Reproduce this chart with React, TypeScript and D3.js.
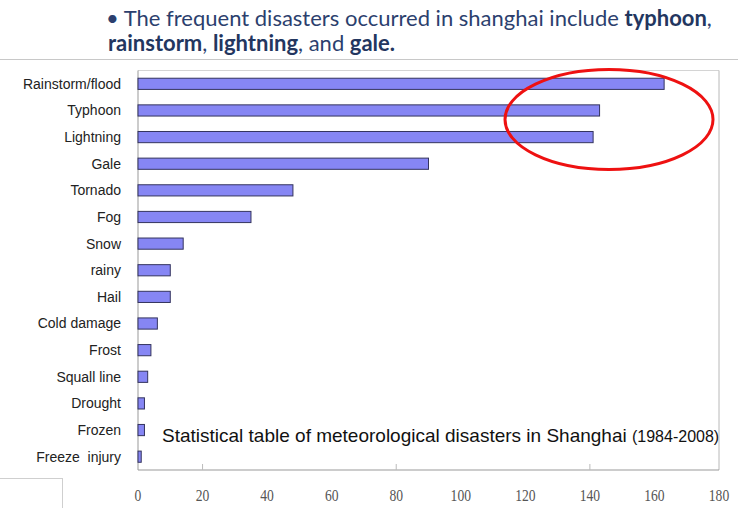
import React from "react";
import * as d3 from "d3";

// Meteorological disaster counts in Shanghai, 1984-2008
const categories = [
  "Rainstorm/flood",
  "Typhoon",
  "Lightning",
  "Gale",
  "Tornado",
  "Fog",
  "Snow",
  "rainy",
  "Hail",
  "Cold damage",
  "Frost",
  "Squall line",
  "Drought",
  "Frozen",
  "Freeze  injury",
];
const counts = [163, 143, 141, 90, 48, 35, 14, 10, 10, 6, 4, 3, 2, 2, 1];
const xTicks = [0, 20, 40, 60, 80, 100, 120, 140, 160, 180];
const markedTicks = [20, 80, 140];

const W = 738;
const H = 508;
const plot = { left: 138, right: 719, top: 70.5, bottom: 470 };

export default function App() {
  const x = d3.scaleLinear().domain([0, 180]).range([plot.left, plot.right]);
  const y = d3
    .scaleBand<string>()
    .domain(categories)
    .range([plot.top, plot.bottom])
    .paddingInner(0.58)
    .paddingOuter(0.29);

  const titleColor = "#2c3f6e";
  const labelFont = "'Liberation Sans', Arial, sans-serif";

  return (
    <svg
      width={W}
      height={H}
      viewBox={`0 0 ${W} ${H}`}
      style={{ position: "absolute", left: 0, top: 0, background: "#fff" }}
    >
      <rect x={0} y={0} width={W} height={H} fill="#fff" />

      {/* heading */}
      <text
        x={106}
        y={26}
        fill={titleColor}
        fontFamily="Lato, 'Open Sans', sans-serif"
        fontSize={22}
      >
        <tspan>• The frequent disasters occurred in shanghai include </tspan>
        <tspan fontWeight="bold" fill="#23365f">typhoon</tspan>
        <tspan>,</tspan>
      </text>
      <text
        x={108}
        y={51}
        fill={titleColor}
        fontFamily="Lato, 'Open Sans', sans-serif"
        fontSize={22}
      >
        <tspan fontWeight="bold" fill="#23365f">rainstorm</tspan>
        <tspan>, </tspan>
        <tspan fontWeight="bold" fill="#23365f">lightning</tspan>
        <tspan>, and </tspan>
        <tspan fontWeight="bold" fill="#23365f">gale.</tspan>
      </text>
      <line x1={0} x2={W} y1={59.5} y2={59.5} stroke="#c8c8c8" strokeWidth={1} />

      {/* plot frame */}
      <line x1={plot.left} x2={plot.right} y1={plot.top} y2={plot.top} stroke="#d4d4d4" />
      <line x1={plot.right} x2={plot.right} y1={plot.top} y2={plot.bottom} stroke="#b8b8b8" />
      <line x1={plot.left} x2={plot.right} y1={plot.bottom} y2={plot.bottom} stroke="#999" />
      <line x1={plot.left} x2={plot.left} y1={plot.top} y2={plot.bottom} stroke="#999" />
      {markedTicks.map((t) => (
        <line
          key={t}
          x1={x(t)}
          x2={x(t)}
          y1={plot.bottom}
          y2={plot.bottom - 6}
          stroke="#bbb"
        />
      ))}

      {/* bars */}
      {categories.map((c, i) => (
        <rect
          key={c}
          x={x(0)}
          y={y(c)!}
          width={x(counts[i]) - x(0)}
          height={y.bandwidth()}
          fill="#8686f4"
          stroke="#34345e"
          strokeWidth={1}
        />
      ))}

      {/* category labels */}
      {categories.map((c) => (
        <text
          key={c}
          x={121}
          y={y(c)! + y.bandwidth() / 2}
          dy="0.35em"
          textAnchor="end"
          fontFamily={labelFont}
          fontSize={14}
          fill="#222"
          style={{ whiteSpace: "pre" }}
        >
          {c}
        </text>
      ))}

      {/* x tick labels (condensed serif digits) */}
      {xTicks.map((t) => (
        <text
          key={t}
          transform={`translate(${x(t)},501) scale(0.85,1)`}
          textAnchor="middle"
          fontFamily="'Liberation Serif', 'DejaVu Serif', serif"
          fontSize={16}
          fill="#555"
        >
          {t}
        </text>
      ))}

      {/* caption */}
      <text x={162} y={442} fontFamily={labelFont} fontSize={19} fill="#111">
        Statistical table of meteorological disasters in Shanghai{" "}
        <tspan fontSize={16}>(1984-2008)</tspan>
      </text>

      {/* highlight ellipse */}
      <ellipse
        cx={609}
        cy={119.5}
        rx={104}
        ry={50}
        fill="none"
        stroke="#ee1111"
        strokeWidth={3}
      />

      {/* corner box lines */}
      <line x1={0} x2={62} y1={478.5} y2={478.5} stroke="#cfcfcf" />
      <line x1={62.5} x2={62.5} y1={478} y2={H} stroke="#cfcfcf" />
    </svg>
  );
}
